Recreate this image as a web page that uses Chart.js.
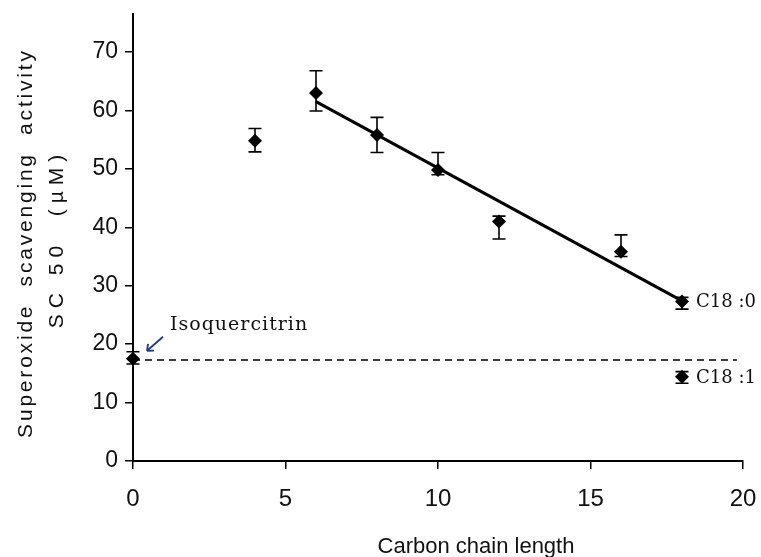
<!DOCTYPE html>
<html>
<head>
<meta charset="utf-8">
<script src="https://cdn.jsdelivr.net/npm/chart.js@4/dist/chart.umd.min.js"></script>
<style>
  html, body { margin: 0; padding: 0; background: #fff; }
  #wrap { width: 761px; height: 557px; }
</style>
</head>
<body>
<div id="wrap"><canvas id="c" width="761" height="557"></canvas></div>
<script>
// ---- data ----
const chainLength = [0, 4, 6, 8, 10, 12, 16, 18, 18];
const sc50        = [17.5, 54.8, 63.0, 55.8, 49.8, 41.0, 35.8, 27.3, 14.4];
const errUpper    = [18.7, 56.9, 66.8, 58.8, 52.8, 41.9, 38.7, 28.0, 15.3];
const errLower    = [16.6, 52.9, 59.9, 52.8, 49.0, 38.0, 35.0, 26.0, 13.3];

const fitX = [6, 18];
const fitY = [61.5, 27.4];

const refX = [0, 19.8];
const refY = [17.3, 17.3];

const xTicks = [0, 5, 10, 15, 20];
const yTicks = [0, 10, 20, 30, 40, 50, 60, 70];

const xTitle = 'Carbon chain length';
const yTitle1 = 'Superoxide  scavenging  activity';
const yTitle2 = 'SC 50  (\u00B5M)';
const noteText = ['Isoquercitrin', 'C18 :0', 'C18 :1'];
const noteIndex = [0, 7, 8];

const toXY = (xs, ys) => xs.map((v, i) => ({ x: v, y: ys[i] }));

const overlay = {
  id: 'overlay',
  afterDatasetsDraw(chart) {
    const { ctx, scales: { x, y } } = chart;
    ctx.save();
    // error bars
    ctx.strokeStyle = '#000';
    ctx.lineWidth = 1.6;
    chainLength.forEach((cx, i) => {
      const px = x.getPixelForValue(cx);
      const top = y.getPixelForValue(errUpper[i]);
      const bot = y.getPixelForValue(errLower[i]);
      ctx.beginPath();
      ctx.moveTo(px, top); ctx.lineTo(px, bot);
      ctx.moveTo(px - 6.5, top); ctx.lineTo(px + 6.5, top);
      ctx.moveTo(px - 6.5, bot); ctx.lineTo(px + 6.5, bot);
      ctx.stroke();
    });

    // annotations
    ctx.fillStyle = '#111';
    ctx.textBaseline = 'alphabetic';
    ctx.textAlign = 'left';
    const p0x = x.getPixelForValue(chainLength[noteIndex[0]]);
    const p0y = y.getPixelForValue(sc50[noteIndex[0]]);
    ctx.font = '19px "DejaVu Serif"';
    ctx.letterSpacing = '1px';
    ctx.fillText(noteText[0], p0x + 37, p0y - 29);
    ctx.letterSpacing = '0px';
    // arrow
    const ax0 = p0x + 30, ay0 = p0y - 22, ax1 = p0x + 14, ay1 = p0y - 8;
    ctx.strokeStyle = '#1f3a8a';
    ctx.lineWidth = 1.8;
    ctx.beginPath();
    ctx.moveTo(ax0, ay0); ctx.lineTo(ax1, ay1);
    ctx.stroke();
    const ang = Math.atan2(ay1 - ay0, ax1 - ax0);
    ctx.beginPath();
    ctx.moveTo(ax1, ay1);
    ctx.lineTo(ax1 - 7 * Math.cos(ang - 0.7), ay1 - 7 * Math.sin(ang - 0.7));
    ctx.moveTo(ax1, ay1);
    ctx.lineTo(ax1 - 7 * Math.cos(ang + 0.7), ay1 - 7 * Math.sin(ang + 0.7));
    ctx.stroke();

    // C18 labels
    ctx.font = '18px "DejaVu Serif"';
    ctx.textBaseline = 'middle';
    for (let k = 1; k < 3; k++) {
      const i = noteIndex[k];
      const px = x.getPixelForValue(chainLength[i]);
      const py = y.getPixelForValue(sc50[i]);
      ctx.fillText(noteText[k], px + 14, py + 1);
    }
    ctx.restore();
  },
  afterDraw(chart) {
    const { ctx, chartArea } = chart;
    ctx.save();
    ctx.fillStyle = '#111';
    ctx.textAlign = 'center';
    ctx.textBaseline = 'middle';
    const cy = (chartArea.top + chartArea.bottom) / 2 + 7;
    ctx.font = '21px "Liberation Sans", Arial, sans-serif';
    ctx.letterSpacing = '2.8px';
    ctx.save();
    ctx.translate(26, cy);
    ctx.rotate(-Math.PI / 2);
    ctx.fillText(yTitle1, 1.4, 0);
    ctx.restore();
    ctx.letterSpacing = '6px';
    ctx.save();
    ctx.translate(57, cy - 3);
    ctx.rotate(-Math.PI / 2);
    ctx.fillText(yTitle2, 3, 0);
    ctx.restore();
    ctx.letterSpacing = '0px';
    ctx.font = '22px "Liberation Sans", Arial, sans-serif';
    ctx.textBaseline = 'alphabetic';
    ctx.fillText(xTitle, (chartArea.left + chartArea.right) / 2 + 38, 553);
    ctx.restore();
  }
};

new Chart(document.getElementById('c'), {
  type: 'scatter',
  data: {
    datasets: [
      {
        data: toXY(chainLength, sc50),
        showLine: false,
        pointStyle: 'rectRot',
        pointRadius: 7,
        backgroundColor: '#000',
        borderColor: '#000',
        borderWidth: 0,
        clip: false,
        order: 1
      },
      {
        data: toXY(fitX, fitY),
        showLine: true,
        pointRadius: 0,
        borderColor: '#000',
        borderWidth: 3,
        clip: false,
        order: 2
      },
      {
        data: toXY(refX, refY),
        showLine: true,
        pointRadius: 0,
        borderColor: '#000',
        borderWidth: 1.5,
        borderDash: [7, 5],
        clip: false,
        order: 3
      }
    ]
  },
  options: {
    responsive: false,
    animation: false,
    events: [],
    layout: { padding: { top: 14, right: 18, left: 0, bottom: 0 } },
    plugins: {
      legend: { display: false },
      tooltip: { enabled: false },
      title: { display: false }
    },
    scales: {
      x: {
        type: 'linear',
        min: 0,
        max: 20,
        afterBuildTicks: (s) => { s.ticks = xTicks.map(v => ({ value: v })); },
        afterFit: (s) => { s.height = 96; s.paddingLeft = 0; s.paddingRight = 0; },
        ticks: {
          color: '#111',
          font: { family: '"Liberation Sans", Arial, sans-serif', size: 24 },
          padding: 16,
          maxRotation: 0
        },
        grid: {
          display: true,
          drawOnChartArea: false,
          drawTicks: true,
          tickLength: 8,
          color: '#000',
          lineWidth: 1.5
        },
        border: { display: true, color: '#000', width: 2 }
      },
      y: {
        type: 'linear',
        min: 0,
        max: 76.5,
        afterBuildTicks: (s) => { s.ticks = yTicks.map(v => ({ value: v })); },
        afterFit: (s) => { s.width = 133; s.paddingTop = 0; s.paddingBottom = 0; },
        ticks: {
          color: '#111',
          font: { family: '"Liberation Sans", Arial, sans-serif', size: 23 },
          padding: 7
        },
        grid: {
          display: true,
          drawOnChartArea: false,
          drawTicks: true,
          tickLength: 8,
          color: '#000',
          lineWidth: 1.5
        },
        border: { display: true, color: '#000', width: 2 }
      }
    }
  },
  plugins: [overlay]
});
</script>
</body>
</html>
